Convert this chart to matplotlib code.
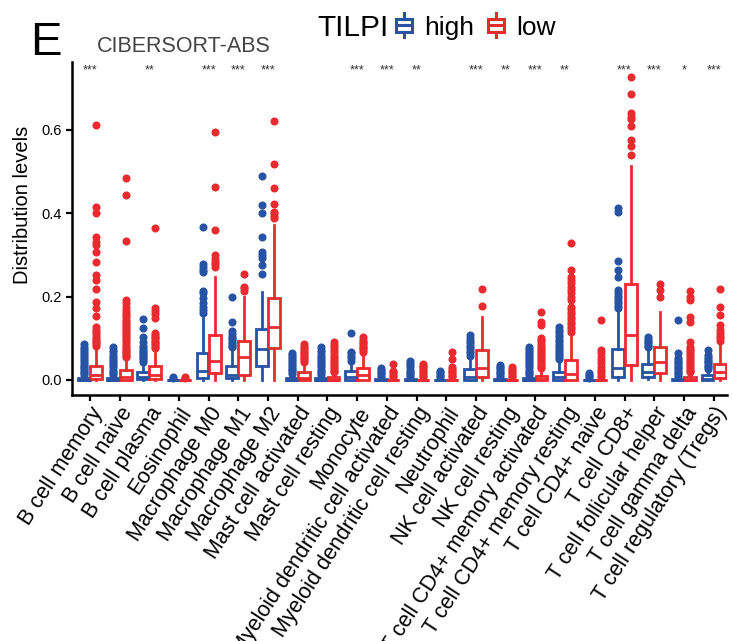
import matplotlib
matplotlib.use("Agg")
import matplotlib.pyplot as plt
from matplotlib.patches import Patch, Rectangle
from matplotlib.lines import Line2D
from matplotlib.legend_handler import HandlerBase

plt.rcParams['font.family'] = ['Liberation Sans', 'DejaVu Sans']

cells = ["B cell memory", "B cell naive", "B cell plasma", "Eosinophil", "Macrophage M0",
         "Macrophage M1", "Macrophage M2", "Mast cell activated", "Mast cell resting",
         "Monocyte", "Myeloid dendritic cell activated", "Myeloid dendritic cell resting",
         "Neutrophil", "NK cell activated", "NK cell resting", "T cell CD4+ memory activated",
         "T cell CD4+ memory resting", "T cell CD4+ naive", "T cell CD8+",
         "T cell follicular helper", "T cell gamma delta", "T cell regulatory (Tregs)"]
sig = ["***", "", "**", "", "***", "***", "***", "", "", "***", "***", "**",
       "", "***", "**", "***", "**", "", "***", "***", "*", "***"]

# TILPI high (blue)
high_q1 = [0, 0, 0.002, 0, 0.004, 0.004, 0.034, 0, 0, 0.001, 0, 0, 0, 0.001, 0, 0, 0.001, 0, 0.008, 0.008, 0, 0]
high_med = [0.001, 0.001, 0.008, 0, 0.022, 0.013, 0.074, 0.001, 0.001, 0.008, 0, 0, 0, 0.008, 0, 0.001, 0.008, 0, 0.028, 0.02, 0, 0.002]
high_q3 = [0.004, 0.004, 0.018, 0.001, 0.065, 0.034, 0.122, 0.005, 0.004, 0.022, 0.002, 0.002, 0.001, 0.026, 0.002, 0.004, 0.02, 0.001, 0.074, 0.038, 0.002, 0.012]
high_lo = [0, 0, 0, 0, 0, 0, 0, 0, 0, 0, 0, 0, 0, 0, 0, 0, 0, 0, 0, 0.002, 0, 0]
high_hi = [0.009, 0.009, 0.04, 0.002, 0.148, 0.072, 0.21, 0.012, 0.01, 0.04, 0.005, 0.005, 0.003, 0.052, 0.005, 0.009, 0.045, 0.002, 0.168, 0.072, 0.005, 0.022]
high_out = [
    [0.012, 0.016, 0.02, 0.024, 0.028, 0.032, 0.036, 0.04, 0.045, 0.05, 0.055, 0.06, 0.065, 0.07, 0.075, 0.08, 0.086],
    [0.012, 0.016, 0.02, 0.025, 0.03, 0.035, 0.04, 0.045, 0.05, 0.055, 0.06, 0.066, 0.072, 0.078],
    [0.044, 0.048, 0.052, 0.056, 0.06, 0.064, 0.068, 0.072, 0.076, 0.082, 0.09, 0.102, 0.124, 0.146],
    [0.004, 0.007],
    [0.16, 0.168, 0.176, 0.184, 0.196, 0.208, 0.214, 0.259, 0.265, 0.272, 0.278, 0.366],
    [0.078, 0.082, 0.086, 0.09, 0.095, 0.1, 0.104, 0.11, 0.118, 0.138, 0.2],
    [0.254, 0.276, 0.292, 0.3, 0.308, 0.342, 0.4, 0.42, 0.49],
    [0.015, 0.019, 0.023, 0.027, 0.031, 0.035, 0.04, 0.045, 0.05, 0.055, 0.06, 0.064],
    [0.013, 0.017, 0.021, 0.025, 0.03, 0.035, 0.04, 0.045, 0.05, 0.055, 0.06, 0.066, 0.072, 0.078],
    [0.046, 0.052, 0.058, 0.064, 0.068, 0.112],
    [0.008, 0.012, 0.016, 0.02, 0.024, 0.028],
    [0.008, 0.012, 0.016, 0.02, 0.025, 0.03, 0.035, 0.04, 0.045],
    [0.006, 0.01, 0.014, 0.018, 0.022],
    [0.058, 0.064, 0.07, 0.076, 0.082, 0.088, 0.094, 0.1, 0.108],
    [0.008, 0.012, 0.016, 0.02, 0.024, 0.028, 0.032, 0.036],
    [0.012, 0.016, 0.02, 0.025, 0.03, 0.035, 0.04, 0.045, 0.05, 0.055, 0.06, 0.065, 0.07, 0.075, 0.08],
    [0.05, 0.055, 0.06, 0.065, 0.07, 0.075, 0.08, 0.085, 0.09, 0.096, 0.102, 0.108, 0.114, 0.12, 0.128],
    [0.005, 0.009, 0.013, 0.016],
    [0.172, 0.178, 0.184, 0.19, 0.196, 0.202, 0.208, 0.216, 0.246, 0.264, 0.286, 0.404, 0.412],
    [0.078, 0.082, 0.086, 0.09, 0.094, 0.098, 0.104],
    [0.008, 0.012, 0.016, 0.02, 0.024, 0.028, 0.032, 0.036, 0.04, 0.044, 0.048, 0.052, 0.064, 0.144],
    [0.026, 0.03, 0.034, 0.038, 0.042, 0.046, 0.05, 0.055, 0.06, 0.072],
]

# TILPI low (red)
low_q1 = [0.002, 0.001, 0.002, 0, 0.016, 0.013, 0.076, 0, 0, 0.001, 0, 0, 0, 0.008, 0, 0, 0.001, 0, 0.036, 0.016, 0, 0.004]
low_med = [0.012, 0.008, 0.013, 0, 0.046, 0.054, 0.126, 0.005, 0.001, 0.012, 0, 0, 0, 0.028, 0, 0.002, 0.014, 0, 0.108, 0.044, 0.001, 0.02]
low_q3 = [0.033, 0.024, 0.034, 0.001, 0.108, 0.093, 0.196, 0.02, 0.006, 0.028, 0.001, 0.001, 0.001, 0.071, 0.001, 0.01, 0.048, 0.001, 0.23, 0.078, 0.006, 0.038]
low_lo = [0, 0, 0, 0, 0, 0, 0, 0, 0, 0, 0, 0, 0, 0, 0, 0, 0, 0, 0, 0, 0, 0]
low_hi = [0.078, 0.05, 0.072, 0.002, 0.248, 0.2, 0.372, 0.04, 0.014, 0.062, 0.003, 0.003, 0.003, 0.152, 0.003, 0.024, 0.112, 0.003, 0.514, 0.164, 0.014, 0.088]
low_out = [
    [0.082, 0.086, 0.09, 0.094, 0.098, 0.104, 0.11, 0.116, 0.12, 0.128, 0.154, 0.172, 0.188, 0.218, 0.24,
     0.252, 0.284, 0.306, 0.325, 0.33, 0.344, 0.4, 0.416, 0.612],
    [0.054, 0.058, 0.062, 0.066, 0.07, 0.075, 0.08, 0.085, 0.09, 0.095, 0.1, 0.105, 0.11, 0.115, 0.12, 0.125,
     0.13, 0.135, 0.14, 0.145, 0.15, 0.155, 0.16, 0.168, 0.176, 0.184, 0.192, 0.334, 0.444, 0.485],
    [0.076, 0.08, 0.084, 0.088, 0.092, 0.096, 0.1, 0.104, 0.108, 0.112, 0.148, 0.158, 0.166, 0.172, 0.365],
    [0.004, 0.008],
    [0.27, 0.278, 0.284, 0.29, 0.3, 0.36, 0.462, 0.594],
    [0.214, 0.22, 0.224, 0.254],
    [0.388, 0.394, 0.4, 0.404, 0.422, 0.461, 0.518, 0.622],
    [0.044, 0.048, 0.052, 0.056, 0.06, 0.064, 0.068, 0.072, 0.076, 0.08, 0.086],
    [0.018, 0.022, 0.026, 0.03, 0.035, 0.04, 0.045, 0.05, 0.055, 0.06, 0.066, 0.072, 0.078, 0.084, 0.09],
    [0.068, 0.072, 0.076, 0.08, 0.084, 0.088, 0.092, 0.096, 0.104],
    [0.006, 0.01, 0.014, 0.018, 0.022, 0.038],
    [0.006, 0.01, 0.014, 0.018, 0.022, 0.026, 0.03, 0.034, 0.038],
    [0.006, 0.01, 0.014, 0.018, 0.022, 0.026, 0.032, 0.05, 0.068],
    [0.178, 0.219],
    [0.006, 0.01, 0.014, 0.018, 0.022, 0.026, 0.032],
    [0.028, 0.032, 0.036, 0.04, 0.045, 0.05, 0.055, 0.06, 0.065, 0.07, 0.075, 0.08, 0.085, 0.09, 0.095,
     0.1, 0.132, 0.138, 0.164],
    [0.116, 0.122, 0.128, 0.134, 0.14, 0.146, 0.152, 0.158, 0.164, 0.17, 0.176, 0.192, 0.2, 0.208, 0.216,
     0.224, 0.232, 0.24, 0.248, 0.264, 0.328],
    [0.006, 0.012, 0.018, 0.025, 0.032, 0.04, 0.048, 0.056, 0.064, 0.072, 0.144],
    [0.54, 0.562, 0.576, 0.61, 0.626, 0.632, 0.64, 0.686, 0.728],
    [0.198, 0.216, 0.23],
    [0.018, 0.022, 0.026, 0.03, 0.035, 0.04, 0.045, 0.05, 0.055, 0.06, 0.065, 0.07, 0.075, 0.08, 0.092,
     0.14, 0.152, 0.192, 0.2, 0.214],
    [0.094, 0.1, 0.106, 0.112, 0.12, 0.132, 0.156, 0.174, 0.218],
]

blue = '#2653A3'
red = '#EA2A2F'


def make_stats(q1, med, q3, lo, hi, out):
    return [dict(q1=a, med=b, q3=c, whislo=d, whishi=e, fliers=f)
            for a, b, c, d, e, f in zip(q1, med, q3, lo, hi, out)]


class BoxHandler(HandlerBase):
    def create_artists(self, legend, orig_handle, xdescent, ydescent, width, height, fontsize, trans):
        c = orig_handle.get_edgecolor()
        cx = -xdescent + width / 2
        bw = width * 0.7
        y0 = -ydescent
        rect = Rectangle((cx - bw / 2, y0 + 0.22 * height), bw, 0.56 * height,
                         fc='white', ec=c, lw=2.2, transform=trans)
        med = Line2D([cx - bw / 2, cx + bw / 2], [y0 + 0.5 * height] * 2, color=c, lw=2.2, transform=trans)
        w1 = Line2D([cx, cx], [y0 - 0.05 * height, y0 + 0.22 * height], color=c, lw=2.2, transform=trans)
        w2 = Line2D([cx, cx], [y0 + 0.78 * height, y0 + 1.05 * height], color=c, lw=2.2, transform=trans)
        return [rect, med, w1, w2]


fig = plt.figure(figsize=(7.33, 6.41), dpi=100)
ax = fig.add_axes([72 / 733, 1 - 395 / 641, 655 / 733, 333 / 641])

pos = list(range(1, len(cells) + 1))
for stats, off, c in [(make_stats(high_q1, high_med, high_q3, high_lo, high_hi, high_out), -0.205, blue),
                      (make_stats(low_q1, low_med, low_q3, low_lo, low_hi, low_out), 0.205, red)]:
    ax.bxp(stats, positions=[p + off for p in pos], widths=0.4, patch_artist=True, showcaps=False,
           boxprops=dict(facecolor='white', edgecolor=c, linewidth=2),
           medianprops=dict(color=c, linewidth=2),
           whiskerprops=dict(color=c, linewidth=2),
           flierprops=dict(marker='o', markerfacecolor=c, markeredgecolor=c, markersize=4.8))

for p, s in zip(pos, sig):
    if s:
        ax.text(p, 0.742, s, ha='center', va='center', fontsize=9, color='#333333')

ax.set_xlim(0.4, 22.45)
ax.set_ylim(-0.036, 0.763)
ax.set_xticks(pos)
ax.set_xticklabels(cells, rotation=57, ha='right', rotation_mode='anchor', fontsize=15.5)
ax.set_yticks([0, 0.2, 0.4, 0.6])
ax.set_yticklabels(['0.0', '0.2', '0.4', '0.6'], fontsize=10.5)
ax.set_ylabel('Distribution levels', fontsize=14.5)
ax.yaxis.set_label_coords(-0.061, 0.57)
ax.spines['top'].set_visible(False)
ax.spines['right'].set_visible(False)
ax.spines['left'].set_linewidth(1.8)
ax.spines['bottom'].set_linewidth(1.8)
ax.tick_params(axis='both', width=1.6, length=4, color='black', labelcolor='black')
ax.tick_params(axis='x', pad=2)

fig.text(30 / 733, 1 - 55 / 641, 'E', fontsize=34, va='baseline', ha='left')
fig.text(97 / 733, 1 - 52 / 641, 'CIBERSORT-ABS', fontsize=15.5, va='baseline', ha='left', color='#444444')
fig.text(317 / 733, 1 - 36 / 641, 'TILPI', fontsize=21.5, va='baseline', ha='left')
handles = [Patch(edgecolor=blue, facecolor='white'), Patch(edgecolor=red, facecolor='white')]
fig.legend(handles, ['high', 'low'], loc='center left', bbox_to_anchor=(392 / 733, 1 - 27 / 641),
           ncol=2, frameon=False, fontsize=19, handlelength=0.9, handleheight=0.9,
           handletextpad=0.3, columnspacing=0.4, borderpad=0, borderaxespad=0,
           handler_map={Patch: BoxHandler()})

fig.savefig('out.png', dpi=100)
